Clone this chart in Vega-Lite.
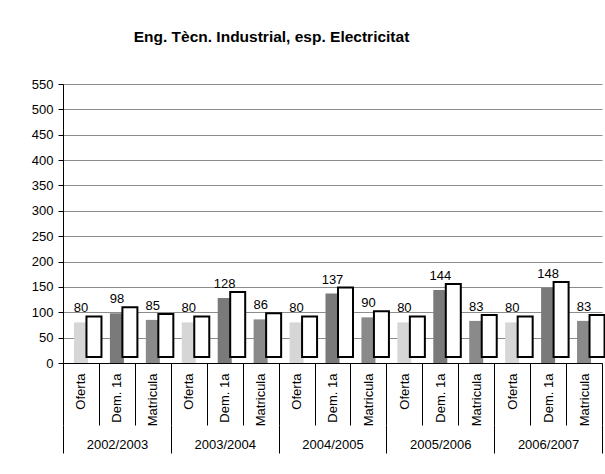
{
  "$schema": "https://vega.github.io/schema/vega-lite/v6.json",
  "width": 539,
  "height": 279,
  "padding": {"left": 31, "top": 29, "right": 0, "bottom": 0},
  "background": "white",
  "title": {"text": "Eng. Tècn. Industrial, esp. Electricitat", "font": "Liberation Sans", "fontSize": 15.5, "fontWeight": "bold", "color": "black", "dx": -61, "offset": 33},
  "data": {"values": [
    {"any": "2002/2003", "cat": "Oferta", "key": "2002/2003|Oferta", "valor": 80},
    {"any": "2002/2003", "cat": "Dem. 1a", "key": "2002/2003|Dem. 1a", "valor": 98},
    {"any": "2002/2003", "cat": "Matricula", "key": "2002/2003|Matricula", "valor": 85},
    {"any": "2003/2004", "cat": "Oferta", "key": "2003/2004|Oferta", "valor": 80},
    {"any": "2003/2004", "cat": "Dem. 1a", "key": "2003/2004|Dem. 1a", "valor": 128},
    {"any": "2003/2004", "cat": "Matricula", "key": "2003/2004|Matricula", "valor": 86},
    {"any": "2004/2005", "cat": "Oferta", "key": "2004/2005|Oferta", "valor": 80},
    {"any": "2004/2005", "cat": "Dem. 1a", "key": "2004/2005|Dem. 1a", "valor": 137},
    {"any": "2004/2005", "cat": "Matricula", "key": "2004/2005|Matricula", "valor": 90},
    {"any": "2005/2006", "cat": "Oferta", "key": "2005/2006|Oferta", "valor": 80},
    {"any": "2005/2006", "cat": "Dem. 1a", "key": "2005/2006|Dem. 1a", "valor": 144},
    {"any": "2005/2006", "cat": "Matricula", "key": "2005/2006|Matricula", "valor": 83},
    {"any": "2006/2007", "cat": "Oferta", "key": "2006/2007|Oferta", "valor": 80},
    {"any": "2006/2007", "cat": "Dem. 1a", "key": "2006/2007|Dem. 1a", "valor": 148},
    {"any": "2006/2007", "cat": "Matricula", "key": "2006/2007|Matricula", "valor": 83}
  ]},
  "config": {
    "view": {"stroke": null},
    "font": "Liberation Sans",
    "axis": {"labelFont": "Liberation Sans", "labelFontSize": 13, "labelColor": "black", "tickColor": "black", "domainColor": "black"}
  },
  "layer": [
    {
      "layer": [
        {
          "mark": {"type": "bar", "width": 14},
          "encoding": {
            "x": {"field": "key", "type": "nominal", "sort": null,
              "scale": {"paddingInner": 0, "paddingOuter": 0},
              "axis": {"title": null, "labelExpr": "split(datum.value,'|')[1]", "labelAngle": -90, "labelPadding": -52, "tickBand": "extent", "tickSize": 62, "labelAlign": "right", "labelBaseline": "middle", "labelOverlap": false, "labelFontSize": 13}},
            "y": {"field": "valor", "type": "quantitative",
              "scale": {"domain": [0, 550], "nice": false},
              "axis": {"title": null, "tickCount": 11, "tickSize": 5, "labelPadding": 5, "labelOverlap": false, "labelFontSize": 13, "gridColor": "#8c8c8c", "gridOpacity": 1}},
            "color": {"field": "cat", "type": "nominal",
              "scale": {"domain": ["Oferta", "Dem. 1a", "Matricula"], "range": ["#d6d6d6", "#7a7a7a", "#8a8a8a"]},
              "legend": null}
          }
        },
        {
          "mark": {"type": "bar", "width": 15, "xOffset": 13, "yOffset": -6, "y2Offset": -6, "fill": "white", "stroke": "black", "strokeWidth": 2},
          "encoding": {
            "x": {"field": "key", "type": "nominal", "sort": null},
            "y": {"field": "valor", "type": "quantitative"}
          }
        },
        {
          "mark": {"type": "text", "dy": -10, "baseline": "alphabetic", "fontSize": 13, "color": "black", "font": "Liberation Sans"},
          "encoding": {
            "x": {"field": "key", "type": "nominal", "sort": null},
            "y": {"field": "valor", "type": "quantitative"},
            "text": {"field": "valor", "type": "quantitative"}
          }
        }
      ]
    },
    {
      "mark": {"type": "bar", "opacity": 0},
      "encoding": {
        "x": {"field": "any", "type": "nominal", "sort": null,
          "scale": {"paddingInner": 0, "paddingOuter": 0},
          "axis": {"orient": "bottom", "title": null, "offset": 62, "domain": false, "tickBand": "extent", "tickSize": 28, "labelAngle": 0, "labelPadding": -15, "labelBaseline": "top", "labelFontSize": 13, "grid": false}},
        "y": {"field": "valor", "type": "quantitative"}
      }
    }
  ],
  "resolve": {"scale": {"x": "independent"}, "axis": {"x": "independent"}}
}
